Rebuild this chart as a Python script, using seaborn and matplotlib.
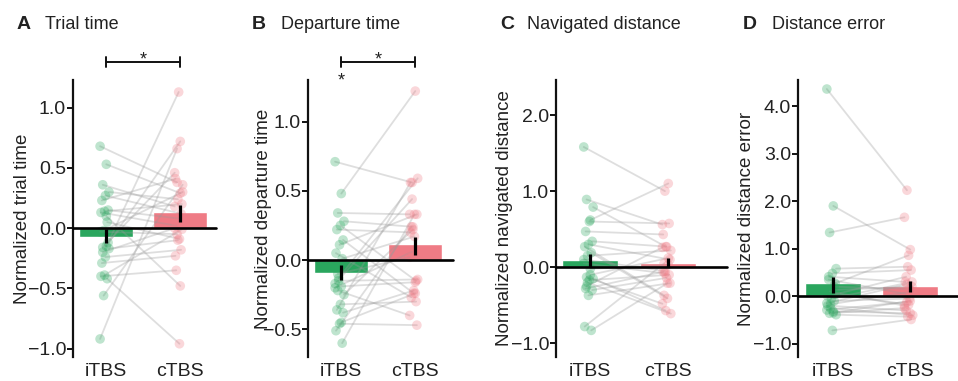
import numpy as np
import pandas as pd
import matplotlib
matplotlib.use("Agg")
import matplotlib.pyplot as plt
import matplotlib.transforms as mtransforms
import seaborn as sns

# ---------------- data ----------------
conditions = ["iTBS", "cTBS"]

trial_itbs = [0.68, 0.53, 0.36, 0.30, 0.27, 0.23, 0.15, 0.14, 0.13, 0.05, -0.02, -0.03, -0.15,
              -0.16, -0.17, -0.24, -0.29, -0.12, -0.39, -0.40, -0.42, -0.56, -0.92, 0.10, -0.20]
trial_ctbs = [0.38, 0.29, 0.18, 0.24, 0.12, 0.41, 0.08, 0.20, 0.02, -0.09, 0.30, -0.05, 0.72,
              0.46, -0.10, -0.18, -0.23, 1.13, -0.01, -0.35, -0.96, 0.36, 0.66, -0.48, 0.00]

depart_itbs = [0.71, 0.48, 0.34, 0.28, 0.25, 0.22, 0.145, 0.11, 0.05, 0.01, -0.13, -0.17, -0.19,
               -0.22, -0.25, -0.32, -0.36, -0.38, -0.46, -0.51, -0.60, -0.15, -0.20, -0.45, -0.10]
depart_ctbs = [0.56, 1.22, 0.33, 0.24, -0.15, 0.20, -0.24, 0.33, -0.27, 0.17, 0.59, 0.44, -0.16,
               -0.40, 0.22, -0.30, 0.56, -0.22, -0.47, 0.24, 0.33, -0.14, 0.06, -0.24, 0.02]

navdist_itbs = [1.58, 0.62, 0.89, 0.79, 0.60, 0.47, 0.34, 0.30, 0.27, 0.19, 0.15, 0.05, -0.02,
                -0.13, -0.15, -0.17, -0.28, -0.30, -0.37, -0.78, -0.83, -0.20, 0.10, -0.10, -0.25]
navdist_ctbs = [1.00, 1.10, 0.56, 0.27, 0.575, 0.43, 0.27, 0.10, -0.37, -0.41, 0.22, -0.08, 0.03,
                -0.48, -0.57, -0.10, -0.06, -0.14, -0.21, 0.05, -0.21, -0.61, -0.05, 0.12, 0.26]

disterr_itbs = [4.36, 1.90, 1.34, 0.58, 0.48, 0.41, 0.27, 0.13, 0.00, -0.10, -0.17, -0.29, -0.32,
                -0.36, -0.39, -0.72, 0.35, 0.05, -0.05, -0.20, 0.20, -0.25, -0.15, -0.35, 0.10]
disterr_ctbs = [2.23, 0.98, 1.66, 0.62, 0.55, 0.30, 0.86, 0.20, 0.41, -0.05, 0.10, -0.12, -0.36,
                -0.25, -0.43, -0.49, 0.05, -0.18, 0.30, -0.30, 0.15, -0.40, 0.25, -0.10, -0.20]

# bar heights and error-bar ends
trial_mean = [-0.075, 0.13]
trial_err_lo = [-0.125, 0.05]
trial_err_hi = [-0.01, 0.19]

depart_mean = [-0.097, 0.114]
depart_err_lo = [-0.145, 0.04]
depart_err_hi = [-0.036, 0.17]

navdist_mean = [0.09, 0.057]
navdist_err_lo = [0.005, 0.0]
navdist_err_hi = [0.17, 0.115]

disterr_mean = [0.27, 0.22]
disterr_err_lo = [0.07, 0.09]
disterr_err_hi = [0.41, 0.32]

panel_letters = ["A", "B", "C", "D"]
panel_titles = ["Trial time", "Departure time", "Navigated distance", "Distance error"]
ylabels = ["Normalized trial time", "Normalized departure time",
           "Normalized navigated distance", "Normalized distance error"]
yticks_list = [[-1.0, -0.5, 0.0, 0.5, 1.0], [-0.5, 0.0, 0.5, 1.0],
               [-1.0, 0.0, 1.0, 2.0], [-1.0, 0.0, 1.0, 2.0, 3.0, 4.0]]

# ---------------- style / layout ----------------
sns.set_theme(style="white")
plt.rcParams["font.family"] = ["Liberation Sans", "DejaVu Sans"]

GREEN = "#2aa65e"
PINK = "#ef7b85"
palette = {"iTBS": GREEN, "cTBS": PINK}

W, H = 958, 381
fig = plt.figure(figsize=(W / 100, H / 100), dpi=100)

# pixel layout: (left, right, top, bottom, x of cat0, x of cat1)
layout = [
    (73, 216, 80, 357, 106, 180),
    (308, 453, 80, 357, 341, 415),
    (556, 727, 80, 357, 590, 668),
    (798, 958, 80, 357, 833, 910),
]
ylims = [(-1.07, 1.23), (-0.70, 1.30), (-1.18, 2.46), (-1.28, 4.55)]
ylabel_px = [31, 272, 513, 755]
title_x = [(17, 45), (252, 281), (500, 527), (743, 772)]

panels = [
    (trial_itbs, trial_ctbs, trial_mean, trial_err_lo, trial_err_hi),
    (depart_itbs, depart_ctbs, depart_mean, depart_err_lo, depart_err_hi),
    (navdist_itbs, navdist_ctbs, navdist_mean, navdist_err_lo, navdist_err_hi),
    (disterr_itbs, disterr_ctbs, disterr_mean, disterr_err_lo, disterr_err_hi),
]

axes = []
for k, (vi, vc, means, lo, hi) in enumerate(panels):
    L, R, T, B, c0, c1 = layout[k]
    ax = fig.add_axes([L / W, 1 - B / H, (R - L) / W, (B - T) / H])
    axes.append(ax)
    unit = c1 - c0
    xlim = ((L - c0) / unit, (R - c0) / unit)

    n = len(vi)
    jit = (((np.arange(n) * 7) % 11) - 5) / 5 * 0.06 - 0.02
    long = pd.DataFrame({
        "subject": np.concatenate([np.arange(n), np.arange(n)]),
        "cond": ["iTBS"] * n + ["cTBS"] * n,
        "value": np.concatenate([vi, vc]),
        "xpos": np.concatenate([0 + jit, 1 + jit[::-1] * 0.9]),
    })
    bars = pd.DataFrame({"cond": conditions, "mean": means})

    sns.barplot(data=bars, x="cond", y="mean", hue="cond", palette=palette,
                order=conditions, hue_order=conditions, errorbar=None,
                width=0.72, legend=False, ax=ax, zorder=1, saturation=1)
    sns.lineplot(data=long, x="xpos", y="value", units="subject", estimator=None,
                 color="#9a9a9a", alpha=0.32, lw=1.3, sort=False, legend=False,
                 ax=ax, zorder=2)
    sns.scatterplot(data=long, x="xpos", y="value", hue="cond", palette=palette,
                    alpha=0.3, s=48, linewidth=0, legend=False, ax=ax, zorder=3)
    ax.axhline(0, color="black", lw=1.9, zorder=4, clip_on=False)
    ax.vlines([0, 1], lo, hi, color="black", lw=2.3, zorder=5)

    ax.set_xlim(*xlim)
    ax.set_ylim(*ylims[k])
    ax.set_yticks(yticks_list[k])
    ax.set_yticklabels([f"{t:.1f}".replace("-", "\u2212") for t in yticks_list[k]])
    ax.set_xticks([0, 1])
    ax.set_xticklabels(conditions)
    ax.set_xlabel("")
    ax.set_ylabel(ylabels[k], fontsize=13.5, color="#222222")
    ax.yaxis.set_label_coords((ylabel_px[k] - L) / (R - L), 0.5)
    for s in ["top", "right", "bottom"]:
        ax.spines[s].set_visible(False)
    ax.spines["left"].set_color("#111111")
    ax.spines["left"].set_linewidth(1.6)
    ax.tick_params(axis="y", which="major", length=4, width=1.4, color="#111111",
                   labelsize=14, pad=1, left=True, labelcolor="#222222")
    ax.tick_params(axis="x", length=0, labelsize=14, pad=4, labelcolor="#222222")
    ax.grid(False)

    lx, tx = title_x[k]
    fig.text(lx / W, 1 - 29 / H, panel_letters[k], fontsize=14, fontweight="bold",
             va="baseline", ha="left", color="#222222")
    fig.text(tx / W, 1 - 29 / H, panel_titles[k], fontsize=13, va="baseline",
             ha="left", color="#222222")

# significance brackets
for k in [0, 1]:
    ax = axes[k]
    trans = mtransforms.blended_transform_factory(ax.transData, ax.transAxes)
    T, B = layout[k][2], layout[k][3]
    h = B - T
    yline = 1 + (T - 62) / h
    ytop = 1 + (T - 57) / h
    ybot = 1 + (T - 67) / h
    ax.plot([0, 1], [yline, yline], color="#111111", lw=1.4, transform=trans, clip_on=False)
    ax.plot([0, 0], [ybot, ytop], color="#111111", lw=1.4, transform=trans, clip_on=False)
    ax.plot([1, 1], [ybot, ytop], color="#111111", lw=1.4, transform=trans, clip_on=False)
    ax.text(0.5, 1 + (T - 64) / h, "*", transform=trans, ha="center", va="baseline",
            fontsize=13, color="#222222")

ax = axes[1]
trans = mtransforms.blended_transform_factory(ax.transData, ax.transAxes)
ax.text(0, 1 + (80 - 85) / 277, "*", transform=trans, ha="center", va="baseline",
        fontsize=13, color="#222222")

fig.savefig("out.png", dpi=100)
